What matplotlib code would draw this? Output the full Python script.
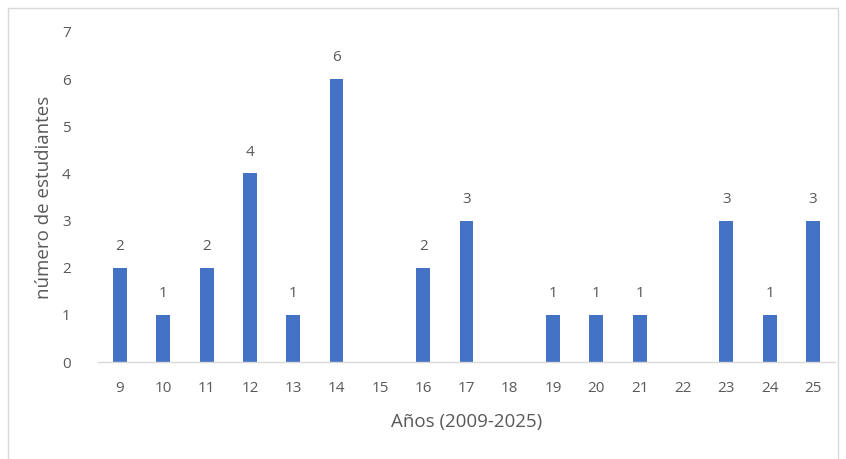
import matplotlib

matplotlib.use("Agg")

import matplotlib.pyplot as plt  # noqa: E402
from matplotlib.patches import Rectangle  # noqa: E402

plt.rcParams["font.family"] = ["Open Sans", "DejaVu Sans"]

years = ["9", "10", "11", "12", "13", "14", "15", "16", "17",
         "18", "19", "20", "21", "22", "23", "24", "25"]
students = [2, 1, 2, 4, 1, 6, 0, 2, 3, 0, 1, 1, 1, 0, 3, 1, 3]

text_color = "#595959"
bar_color = "#4472C4"

fig = plt.figure(figsize=(8.46, 4.59), dpi=100)
ax = fig.add_axes([0.1162, 0.2113, 0.8704, 0.719])

positions = list(range(len(years)))
bars = ax.bar(positions, students, width=0.32, color=bar_color)
labels = [str(v) if v > 0 else "" for v in students]
ax.bar_label(bars, labels=labels, padding=10, fontsize=11, color=text_color)

ax.set_xlim(-0.5, len(years) - 0.5)
ax.set_ylim(0, 7)
ax.set_xticks(positions)
ax.set_xticklabels(years)
ax.set_yticks(range(0, 8))
ax.tick_params(axis="both", length=0, labelsize=11, labelcolor=text_color)
ax.tick_params(axis="x", pad=14)
ax.tick_params(axis="y", pad=20)

for side in ["top", "right", "left"]:
    ax.spines[side].set_visible(False)
ax.spines["bottom"].set_color("#d9d9d9")
ax.spines["bottom"].set_linewidth(1.0)

ax.set_xlabel("Años (2009-2025)", fontsize=13.5, color=text_color, labelpad=12)
ax.set_ylabel("número de estudiantes", fontsize=13.5, color=text_color, labelpad=6)

# light frame around the chart area
fig.patches.append(Rectangle((8 / 846, -0.05), 830 / 846, 1 - 8 / 459 + 0.05,
                             transform=fig.transFigure, fill=False,
                             edgecolor="#d9d9d9", linewidth=1.0))

fig.savefig("out.png", dpi=100)
